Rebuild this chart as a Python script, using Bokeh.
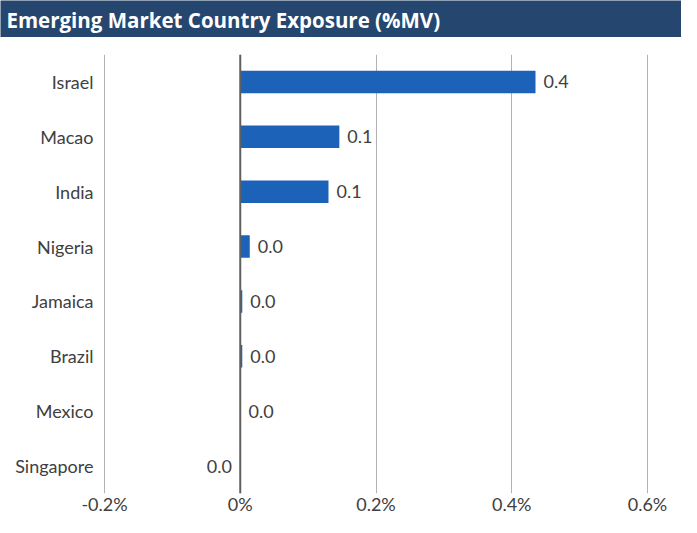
from bokeh.plotting import figure
from bokeh.models import (FactorRange, Range1d, FixedTicker, Span, Label,
                          ColumnDataSource, LabelSet)
from bokeh.core.properties import value
from bokeh.layouts import column
from bokeh.embed import file_html
from bokeh.resources import INLINE

# ---- data ----
title_text = "Emerging Market Country Exposure (%MV)"
countries = ["Israel", "Macao", "India", "Nigeria", "Jamaica", "Brazil", "Mexico", "Singapore"]
exposure = [0.435, 0.146, 0.130, 0.014, 0.003, 0.003, 0.0003, -0.0005]
tick_values = [-0.2, 0.0, 0.2, 0.4, 0.6]
tick_labels = ["-0.2%", "0%", "0.2%", "0.4%", "0.6%"]

NAVY = "#25466f"
BAR = "#1c62b9"
TEXT = "#404040"
LABEL_FONT = "Lato"
FS = "18px"

W = 681
PAD_L, PAD_R = 104, 34          # pixels reserved left/right of the value axis extent
x_lo, x_hi = tick_values[0], tick_values[-1]
per_px = (x_hi - x_lo) / (W - PAD_L - PAD_R)
x_range_start = x_lo - PAD_L * per_px
x_range_end = x_hi + PAD_R * per_px

# ---- title bar ----
tfig = figure(width=W, height=37, x_range=Range1d(0, 1), y_range=Range1d(0, 1),
              output_backend="svg", toolbar_location=None,
              min_border_left=0, min_border_right=0,
              min_border_top=0, min_border_bottom=0)
tfig.axis.visible = False
tfig.grid.visible = False
tfig.outline_line_color = None
tfig.background_fill_color = NAVY
tfig.border_fill_color = NAVY
tfig.add_layout(Label(x=6, y=18, x_units="screen", y_units="screen", text=title_text,
                      text_color="white", text_font="Open Sans", text_font_style="bold",
                      text_font_size="20.5px", text_baseline="middle", text_align="left"))

# ---- main chart ----
factors = list(reversed(countries))
p = figure(width=W, height=480, y_range=FactorRange(*factors, range_padding=0),
           x_range=Range1d(x_range_start, x_range_end),
           output_backend="svg", toolbar_location=None,
           min_border_left=0, min_border_right=0, min_border_top=17, min_border_bottom=20)
p.outline_line_color = None
p.background_fill_color = "white"
p.border_fill_color = "white"

src = ColumnDataSource(dict(country=countries, value=exposure))
pos = ColumnDataSource(dict(
    country=[c for c, v in zip(countries, exposure) if v >= 0],
    value=[v for v in exposure if v >= 0],
    label=["%.1f" % v for v in exposure if v >= 0],
))
neg = ColumnDataSource(dict(
    country=[c for c, v in zip(countries, exposure) if v < 0],
    value=[v for v in exposure if v < 0],
    label=["%.1f" % abs(v) for v in exposure if v < 0],
))
cat = ColumnDataSource(dict(country=countries, x=[x_lo] * len(countries)))

p.hbar(y="country", left=0, right="value", height=0.41, source=src,
       fill_color=BAR, line_color=None)

common = dict(text_baseline="middle", text_font=value(LABEL_FONT),
              text_font_size=value(FS), text_color=TEXT)
p.add_layout(LabelSet(x="value", y="country", text="label", source=pos,
                      x_offset=8, text_align="left", **common))
p.add_layout(LabelSet(x="value", y="country", text="label", source=neg,
                      x_offset=-8, text_align="right", **common))
# category labels (left of the value axis)
p.add_layout(LabelSet(x="x", y="country", text="country", source=cat,
                      x_offset=-11, text_align="right", **common))

# grid
p.xgrid.ticker = FixedTicker(ticks=tick_values)
p.xgrid.grid_line_color = "#b3b3b3"
p.xgrid.grid_line_width = 1
p.ygrid.grid_line_color = None
p.add_layout(Span(location=0, dimension="height", line_color="#5f5f5f", line_width=2))

# axes
p.yaxis.visible = False
p.xaxis.ticker = FixedTicker(ticks=tick_values)
p.xaxis.major_label_overrides = {v: l for v, l in zip(tick_values, tick_labels)}
p.xaxis.axis_line_color = None
p.xaxis.major_tick_line_color = None
p.xaxis.minor_tick_line_color = None
p.xaxis.major_tick_out = 0
p.xaxis.major_tick_in = 0
p.xaxis.major_label_standoff = -1
p.xaxis.major_label_text_font = LABEL_FONT
p.xaxis.major_label_text_font_size = FS
p.xaxis.major_label_text_color = TEXT

layout = column(tfig, p, spacing=0)
open("out.html", "w").write(file_html(layout, INLINE))
